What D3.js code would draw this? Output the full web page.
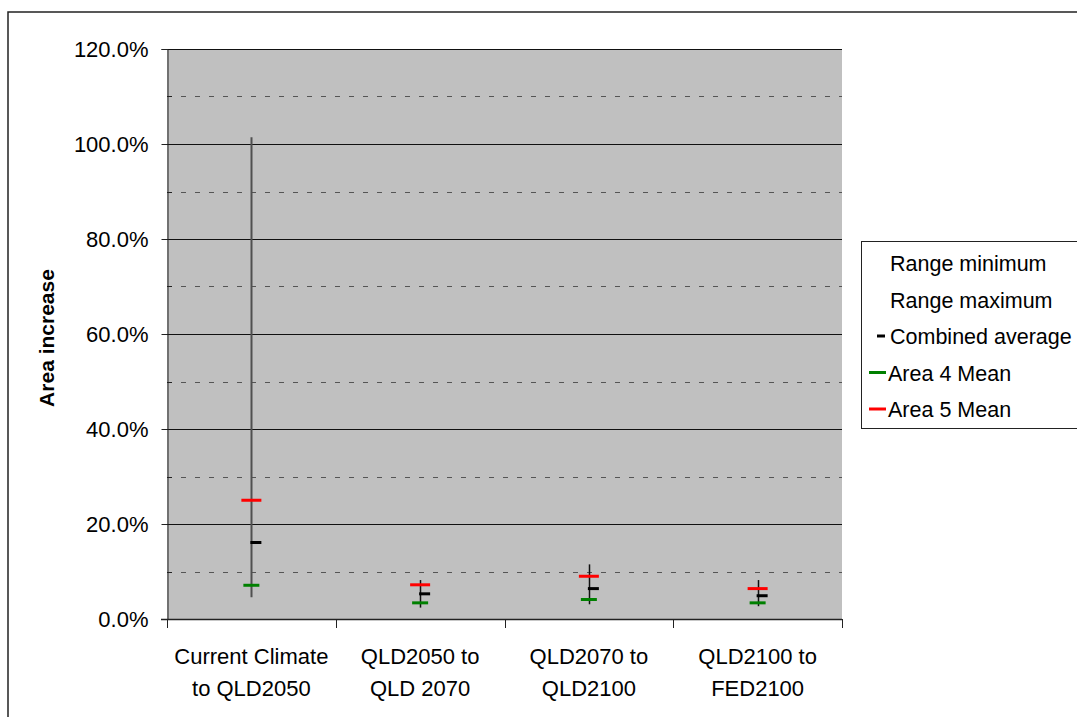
<!DOCTYPE html>
<html>
<head>
<meta charset="utf-8">
<script src="https://cdn.jsdelivr.net/npm/d3@7"></script>
<style>
  html, body { margin: 0; padding: 0; background: #fff; }
  svg { display: block; font-family: Arial, "Liberation Sans", sans-serif; }
</style>
</head>
<body>
<svg id="chart" width="1077" height="717"></svg>
<script>
// Category labels (two lines each)
const categories = [
  ["Current Climate", "to QLD2050"],
  ["QLD2050 to", "QLD 2070"],
  ["QLD2070 to", "QLD2100"],
  ["QLD2100 to", "FED2100"]
];
// Series values (fractions)
const rangeMin    = [0.046, 0.024, 0.031, 0.027];
const rangeMax    = [1.014, 0.082, 0.115, 0.082];
const combinedAvg = [0.161, 0.053, 0.064, 0.049];
const area4Mean   = [0.071, 0.034, 0.041, 0.034];
const area5Mean   = [0.250, 0.072, 0.090, 0.064];

const yTicks = [0, 0.2, 0.4, 0.6, 0.8, 1.0, 1.2];
const yMinorTicks = [0.1, 0.3, 0.5, 0.7, 0.9, 1.1];
const legendItems = ["Range minimum", "Range maximum", "Combined average", "Area 4 Mean", "Area 5 Mean"];

const svg = d3.select("#chart");
const plot = { left: 167, right: 842, top: 49, bottom: 619 };
const FONT = 22;

// outer chart frame
svg.append("rect")
  .attr("x", 8).attr("y", 12).attr("width", 1100).attr("height", 720)
  .attr("fill", "none").attr("stroke", "#222").attr("stroke-width", 1.5);

const x = d3.scaleBand().domain(d3.range(categories.length))
  .range([plot.left, plot.right]).paddingInner(0).paddingOuter(0);
const y = d3.scaleLinear().domain([0, 1.2]).range([plot.bottom, plot.top]);

// plot background
svg.append("rect")
  .attr("x", plot.left).attr("y", plot.top)
  .attr("width", plot.right - plot.left).attr("height", plot.bottom - plot.top)
  .attr("fill", "#c0c0c0");

// dashed minor gridlines
svg.append("g").selectAll("line").data(yMinorTicks).join("line")
  .attr("x1", plot.left).attr("x2", plot.right)
  .attr("y1", d => Math.round(y(d)) + 0.5).attr("y2", d => Math.round(y(d)) + 0.5)
  .attr("stroke", "#555").attr("stroke-width", 1).attr("stroke-dasharray", "5,9");

// solid major gridlines
svg.append("g").selectAll("line").data(yTicks.filter(d => d > 0)).join("line")
  .attr("x1", plot.left).attr("x2", plot.right)
  .attr("y1", d => Math.round(y(d)) + 0.5).attr("y2", d => Math.round(y(d)) + 0.5)
  .attr("stroke", "#111").attr("stroke-width", 1);

// y axis
const yAxis = d3.axisLeft(y).tickValues(yTicks).tickSize(6).tickFormat(d3.format(".1%"));
const gy = svg.append("g").attr("transform", `translate(${plot.left + 0.5},0)`).call(yAxis);
gy.select(".domain").attr("stroke", "#222");
gy.selectAll(".tick line").attr("stroke", "#222");
gy.selectAll(".tick text").attr("font-size", FONT).attr("fill", "#000")
  .attr("font-family", "Arial, 'Liberation Sans', sans-serif").attr("x", -19);
// minor inside ticks
svg.append("g").selectAll("line").data(yMinorTicks).join("line")
  .attr("x1", plot.left).attr("x2", plot.left + 5)
  .attr("y1", d => Math.round(y(d)) + 0.5).attr("y2", d => Math.round(y(d)) + 0.5)
  .attr("stroke", "#222");

// x axis line and boundary ticks
svg.append("line")
  .attr("x1", plot.left - 6).attr("x2", plot.right)
  .attr("y1", plot.bottom + 0.5).attr("y2", plot.bottom + 0.5)
  .attr("stroke", "#222").attr("stroke-width", 1.5);
const bounds = d3.range(categories.length + 1).map(i => plot.left + i * x.bandwidth());
svg.append("g").selectAll("line").data(bounds).join("line")
  .attr("x1", d => Math.round(d) + 0.5).attr("x2", d => Math.round(d) + 0.5)
  .attr("y1", plot.bottom).attr("y2", plot.bottom + 9)
  .attr("stroke", "#222");

// category labels
const cx = i => x(i) + x.bandwidth() / 2;
const xl = svg.append("g").selectAll("text").data(categories).join("text")
  .attr("x", (d, i) => cx(i)).attr("y", 664)
  .attr("text-anchor", "middle").attr("font-size", FONT).attr("fill", "#000");
xl.selectAll("tspan").data(d => d).join("tspan")
  .attr("x", function () { return this.parentNode.getAttribute("x"); })
  .attr("dy", (d, i) => i === 0 ? 0 : 32)
  .text(d => d);

// y axis title
svg.append("text")
  .attr("transform", `translate(54,${(plot.top + plot.bottom) / 2 + 4}) rotate(-90)`)
  .attr("text-anchor", "middle").attr("font-size", 21).attr("font-weight", "bold")
  .text("Area increase");

// high-low range lines
svg.append("g").selectAll("line").data(categories).join("line")
  .attr("x1", (d, i) => Math.round(cx(i)) + 0.5).attr("x2", (d, i) => Math.round(cx(i)) + 0.5)
  .attr("y1", (d, i) => y(rangeMax[i])).attr("y2", (d, i) => y(rangeMin[i]))
  .attr("stroke", (d, i) => i === 0 ? "#505050" : "#111")
  .attr("stroke-width", (d, i) => i === 0 ? 2 : 1.5);

// Area 4 mean dashes
svg.append("g").selectAll("line").data(area4Mean).join("line")
  .attr("x1", (d, i) => cx(i) - 8).attr("x2", (d, i) => cx(i) + 8)
  .attr("y1", d => y(d)).attr("y2", d => y(d))
  .attr("stroke", "#008000").attr("stroke-width", 3);

// Area 5 mean dashes
svg.append("g").selectAll("line").data(area5Mean).join("line")
  .attr("x1", (d, i) => cx(i) - 10).attr("x2", (d, i) => cx(i) + 10)
  .attr("y1", d => y(d)).attr("y2", d => y(d))
  .attr("stroke", "#ff0000").attr("stroke-width", 3);

// combined average (close tick on the right)
svg.append("g").selectAll("line").data(combinedAvg).join("line")
  .attr("x1", (d, i) => cx(i) - 1).attr("x2", (d, i) => cx(i) + 10)
  .attr("y1", d => y(d)).attr("y2", d => y(d))
  .attr("stroke", "#000").attr("stroke-width", 3);

// legend
const lg = svg.append("g");
lg.append("rect")
  .attr("x", 861.5).attr("y", 241.5).attr("width", 230).attr("height", 187)
  .attr("fill", "#fff").attr("stroke", "#222").attr("stroke-width", 1);
const ly = i => 263 + i * 36.5;
lg.selectAll("text").data(legendItems).join("text")
  .attr("x", (d, i) => i < 3 ? 890 : 888).attr("y", (d, i) => ly(i) + 8)
  .attr("font-size", 21.5).attr("fill", "#000").text(d => d);
// legend symbols
lg.append("line").attr("x1", 877).attr("x2", 885).attr("y1", ly(2)).attr("y2", ly(2))
  .attr("stroke", "#000").attr("stroke-width", 3);
lg.append("line").attr("x1", 869).attr("x2", 886).attr("y1", ly(3)).attr("y2", ly(3))
  .attr("stroke", "#008000").attr("stroke-width", 3);
lg.append("line").attr("x1", 869).attr("x2", 886).attr("y1", ly(4)).attr("y2", ly(4))
  .attr("stroke", "#ff0000").attr("stroke-width", 3);
</script>
</body>
</html>
